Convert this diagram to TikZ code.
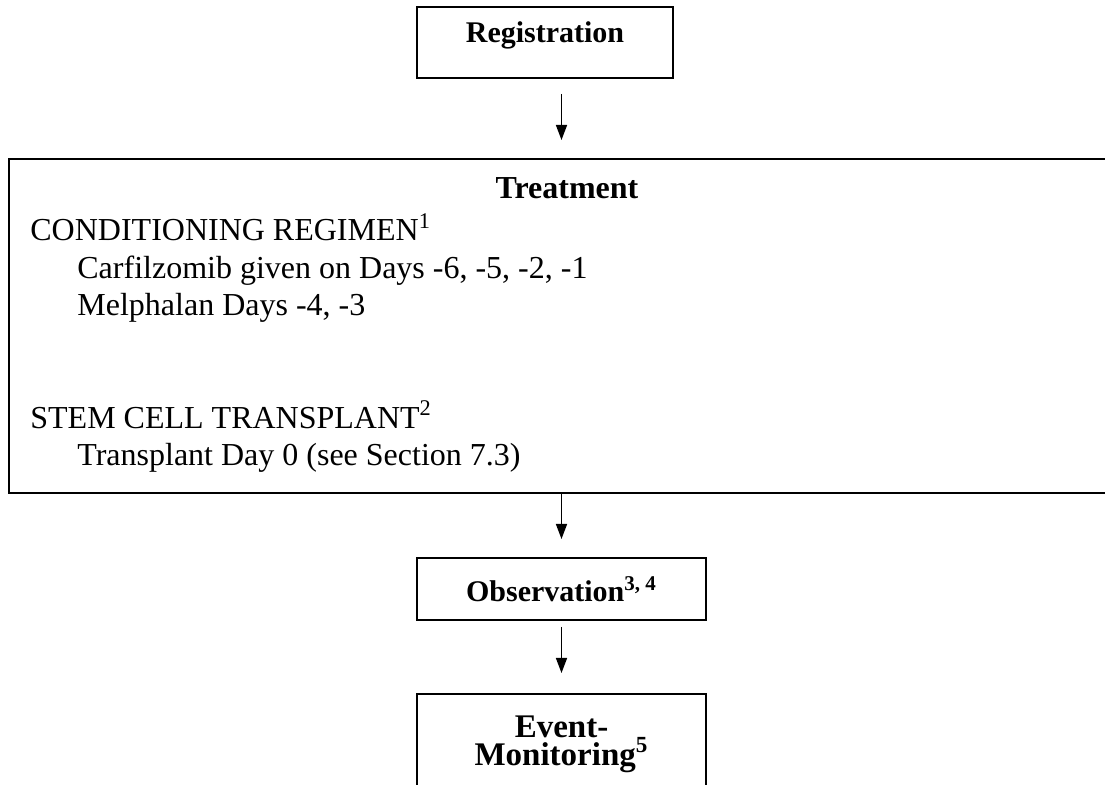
\documentclass[tikz,border=0pt]{standalone}
\usepackage{fontspec}
\setmainfont{Liberation Serif}
\usetikzlibrary{arrows.meta}

\begin{document}
\begin{tikzpicture}[x=0.5pt, y=-0.5pt,
    box/.style={draw, line width=1pt, inner sep=0pt, align=center,
                font=\fontsize{15}{14.5}\selectfont\bfseries},
    arr/.style={line width=0.75pt, -{Triangle[width=5.5pt, length=7.5pt]}}]
                \clip (0, 0) rectangle (1105, 785);

                % Registration
                \node[box, minimum width=128pt, minimum height=35.5pt, text depth=10pt] (reg) at (545, 42.5) {Registration};

                % Treatment
                \node[box, minimum width=558pt, minimum height=167pt] (treat) at (567, 326) {};
                \node[anchor=base, inner sep=0pt, font=\fontsize{16}{18}\selectfont\bfseries] (treathead)
                    at ([yshift=-20.5pt]treat.north) {Treatment};
                \node[anchor=north west, inner sep=0pt, align=left, font=\fontsize{16}{18.75}\selectfont] (plan)
                    at ([xshift=11pt, yshift=-27.5pt]treat.north west)
                    {CONDITIONING REGIMEN\textsuperscript{1}\\
                     \hspace*{23.5pt}Carfilzomib given on Days -6, -5, -2, -1\\
                     \hspace*{23.5pt}Melphalan Days -4, -3\\[37.5pt]
                     STEM CELL TRANSPLANT\textsuperscript{2}\\
                     \hspace*{23.5pt}Transplant Day 0 (see Section 7.3)};

                % Observation
                \node[box, minimum width=144.5pt, minimum height=31pt] (obs) at (561.5, 589) {Observation\textsuperscript{3, 4}};

                % Event monitoring
                \node[box, minimum width=144.5pt, minimum height=50pt, anchor=north,
                      font=\fontsize{16.5}{14}\selectfont\bfseries] (evt) at (561.5, 693) {Event-\\Monitoring\textsuperscript{5}};

                \draw[arr, shorten <=7.5pt, shorten >=9pt] (reg.south -| obs.north) -- (treat.north -| obs.north);
                \draw[arr, shorten >=9pt] (treat.south -| obs.north) -- (obs.north);
                \draw[arr, shorten <=3pt, shorten >=10pt] (obs.south) -- (evt.north);
            \end{tikzpicture}
\end{document}
